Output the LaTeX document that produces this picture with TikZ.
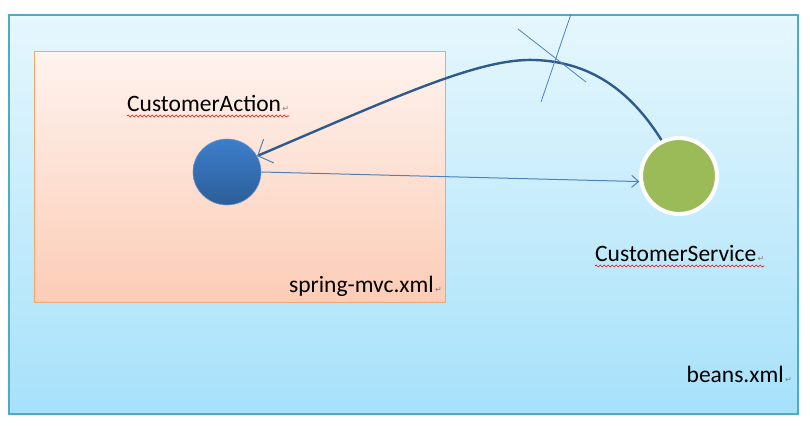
\documentclass[tikz,border=0pt]{standalone}
\usepackage{fontspec}
\setmainfont{Carlito}
\newfontfamily\markfont{DejaVu Sans}
\usetikzlibrary{positioning,arrows.meta,decorations.pathmorphing,shapes.geometric}
\definecolor{beanfill}{HTML}{A6E1FA}
\definecolor{beantop}{HTML}{E6F7FD}
\definecolor{beanline}{HTML}{4BACC6}
\definecolor{mvcfill}{HTML}{FCCCB6}
\definecolor{mvctop}{HTML}{FEF3EE}
\definecolor{mvcline}{HTML}{F7A468}
\definecolor{actdark}{HTML}{2C5D98}
\definecolor{actlight}{HTML}{3D7ECC}
\definecolor{svcgreen}{HTML}{9BBB59}
\definecolor{wireblue}{HTML}{2F5A8C}
\definecolor{tipblue}{HTML}{4F81BD}
\newcommand{\pmark}{{\markfont\fontsize{8}{8}\selectfont\color{gray}\,↵}}
\tikzset{
  lbl/.style={inner sep=0pt, font=\fontsize{23.5}{26}\selectfont},
  squiggle/.style={red, line width=0.6pt, decorate,
    decoration={snake, amplitude=1pt, segment length=4pt}},
}
\begin{document}
\begin{tikzpicture}[x=1pt, y=-1pt]
  \useasboundingbox (0,0) rectangle (810,428);
  % containers
  \draw [top color=beantop, bottom color=beanfill, draw=beanline, line width=1.2pt] (9,15) rectangle (798,414);
  \draw [top color=mvctop, bottom color=mvcfill, draw=mvcline, line width=1pt] (34,52) rectangle (445,302);

  % beans
  \node (act) [ellipse, minimum width=68pt, minimum height=66pt, inner sep=0pt,
    top color=actlight, bottom color=actdark, draw=tipblue!80, line width=0.6pt] at (227,172) {};
  \node (svc) [circle, minimum size=76pt, inner sep=0pt, fill=svcgreen,
    draw=white, line width=4pt] at (679,176) {};

  % labels
  \node (actlbl) [lbl, anchor=base west] at (127,111) {CustomerAction\pmark};
  \node (mvclbl) [lbl, anchor=base east] at (442,292) {spring-mvc.xml\pmark};
  \node (svclbl) [lbl, anchor=base west] at (595,261) {CustomerService\pmark};
  \node (beanlbl) [lbl, anchor=base east] at (792,382) {beans.xml\pmark};
  \draw [squiggle] ([yshift=-5pt]actlbl.base west) -- ([yshift=-5pt]actlbl.base east);
  \draw [squiggle] ([yshift=-5pt]svclbl.base west) -- ([yshift=-5pt]svclbl.base east);

  % injection
  \draw [tipblue, line width=1pt, -{Straight Barb[length=7pt, width=12pt]}]
    (act.east) -- (svc.188);
  \draw [wireblue, line width=2.4pt, -{Straight Barb[length=12pt, width=26pt, line width=1pt, color=tipblue]}]
    (svc.116) .. controls (630,90) and (590,62) .. (535,60)
    .. controls (480,58) and (400,95) .. (act.28);

  % crossed out
  \draw [tipblue, line width=0.8pt] (518,29) -- (586,82);
  \draw [tipblue, line width=0.8pt] (571,14) -- (541,102);
\end{tikzpicture}
\end{document}
